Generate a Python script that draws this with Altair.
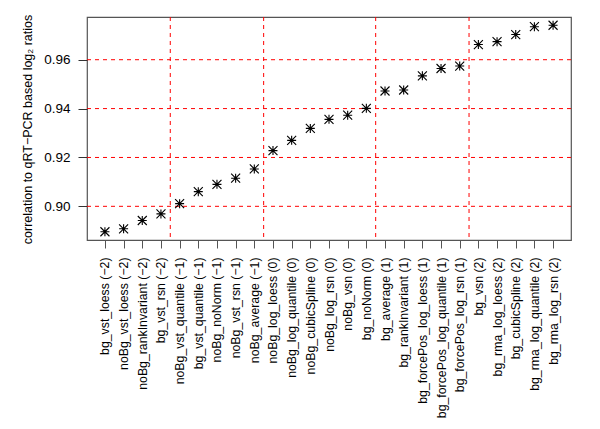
import json
import altair as alt
import pandas as pd

names = [
    "bg_vst_loess (−2)", "noBg_vst_loess (−2)", "noBg_rankInvariant (−2)", "bg_vst_rsn (−2)",
    "noBg_vst_quantile (−1)", "bg_vst_quantile (−1)", "noBg_noNorm (−1)", "noBg_vst_rsn (−1)",
    "noBg_average (−1)",
    "noBg_log_loess (0)", "noBg_log_quantile (0)", "noBg_cubicSpline (0)", "noBg_log_rsn (0)",
    "noBg_vsn (0)", "bg_noNorm (0)",
    "bg_average (1)", "bg_rankInvariant (1)", "bg_forcePos_log_loess (1)",
    "bg_forcePos_log_quantile (1)", "bg_forcePos_log_rsn (1)",
    "bg_vsn (2)", "bg_rma_log_loess (2)", "bg_cubicSpline (2)", "bg_rma_log_quantile (2)",
    "bg_rma_log_rsn (2)",
]
values = [
    0.8896, 0.8908, 0.8942, 0.8969,
    0.9011, 0.9060, 0.9090, 0.9115, 0.9153,
    0.9228, 0.9270, 0.9319, 0.9356, 0.9373, 0.9401,
    0.9472, 0.9476, 0.9534, 0.9564, 0.9574,
    0.9662, 0.9674, 0.9703, 0.9735, 0.9741,
]
group_breaks = [4.5, 9.5, 15.5, 20.5]
y_ticks = [0.90, 0.92, 0.94, 0.96]

df = pd.DataFrame({"idx": list(range(1, len(names) + 1)), "name": names, "value": values})
vdf = pd.DataFrame({"xb": group_breaks})
hdf = pd.DataFrame({"yb": y_ticks})

n = len(names)
ext = (n - 1) * 0.04
x_dom = [1 - ext, n + ext]
vmin, vmax = min(values), max(values)
yext = (vmax - vmin) * 0.04
y_dom = [vmin - yext, vmax + yext]

FONT = "Liberation Sans"
label_expr = json.dumps(names) + "[datum.value - 1]"

x_scale = alt.Scale(domain=x_dom, nice=False, zero=False)
y_scale = alt.Scale(domain=y_dom, nice=False, zero=False)

x_axis = alt.Axis(
    values=list(range(1, n + 1)), labelExpr=label_expr, labelAngle=-90,
    labelAlign="right", labelBaseline="middle", labelFont=FONT, labelFontSize=12.3,
    labelColor="black", tickSize=8, tickColor="#555555", labelPadding=9,
    domain=False, grid=False, title=None, labelOverlap=False, labelBound=False,
    labelFlush=False,
)
y_axis = alt.Axis(
    values=y_ticks, format=".2f", labelFont=FONT, labelFontSize=13.5, labelColor="black",
    tickSize=9, tickColor="#333333", labelPadding=8, domain=False, grid=False,
    title="correlation to qRT−PCR based log₂ ratios", titleFont=FONT, titleFontSize=12.5,
    titleFontWeight="normal", titleColor="black",
    titleX=-53, titleY=112, titleAngle=270, titleAlign="center", titleBaseline="bottom",
)

dash = [4, 4]
hlines = alt.Chart(hdf).mark_rule(color="#ff0000", strokeDash=dash, strokeWidth=1).encode(
    y=alt.Y("yb:Q", scale=y_scale, axis=y_axis)
)
vlines = alt.Chart(vdf).mark_rule(color="#ff0000", strokeDash=dash, strokeWidth=1).encode(
    x=alt.X("xb:Q", scale=x_scale, axis=x_axis)
)
asterisk = "M-1,0L1,0M0,-1L0,1M-1,-1L1,1M-1,1L1,-1"
points = alt.Chart(df).mark_point(
    shape=asterisk, size=81, filled=False, color="black", strokeWidth=1.1, opacity=1
).encode(
    x=alt.X("idx:Q", scale=x_scale, axis=x_axis),
    y=alt.Y("value:Q", scale=y_scale, axis=y_axis),
)

chart = alt.layer(hlines, vlines, points).properties(
    width=484, height=223,
    autosize=alt.AutoSizeParams(type="none"),
    padding={"left": 79, "top": 9, "right": 21, "bottom": 181},
).configure_view(stroke="#555555", strokeWidth=1.2)

chart.save("out.html", embed_options={"renderer": "svg", "actions": False})
